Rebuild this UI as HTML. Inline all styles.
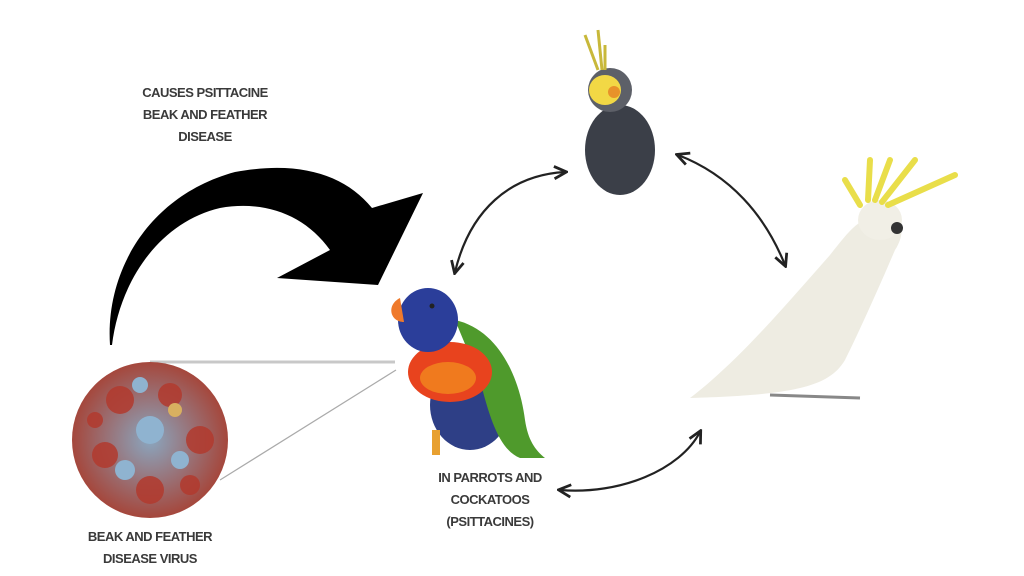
<!DOCTYPE html>
<html><head><style>
html,body{margin:0;padding:0;background:#fff;}
.t{position:absolute;font-family:"Liberation Sans Narrow","Liberation Sans",sans-serif;font-weight:bold;color:#3a3a3a;font-size:13px;text-align:center;line-height:22px;letter-spacing:-0.5px;}
</style></head><body>
<div style="position:relative;width:1024px;height:576px;overflow:hidden;">
<svg width="1024" height="576" style="position:absolute;left:0;top:0">
<defs>
<marker id="ah" viewBox="0 0 10 10" refX="8" refY="5" markerWidth="7" markerHeight="7" orient="auto-start-reverse"><path d="M1,1 L9,5 L1,9" fill="none" stroke="#222" stroke-width="1.8"/></marker>
<radialGradient id="vg" cx="50%" cy="50%" r="50%"><stop offset="0" stop-color="#8aa6bf"/><stop offset="1" stop-color="#a5473c"/></radialGradient>
</defs>
<path d="M110,345 C105,270 150,195 235,172 C300,160 345,175 372,208 L423,193 L378,285 L277,278 L330,250 C305,215 265,200 220,208 C160,222 120,280 112,345 Z" fill="#000"/>
<line x1="150" y1="362" x2="395" y2="362" stroke="#c8c8c8" stroke-width="3"/>
<line x1="220" y1="480" x2="396" y2="370" stroke="#aaa" stroke-width="1.2"/>
<circle cx="150" cy="440" r="78" fill="url(#vg)"/>
<g fill="#b23a2e" opacity=".85">
<circle cx="120" cy="400" r="14"/><circle cx="170" cy="395" r="12"/><circle cx="200" cy="440" r="14"/><circle cx="105" cy="455" r="13"/><circle cx="150" cy="490" r="14"/><circle cx="190" cy="485" r="10"/><circle cx="95" cy="420" r="8"/>
</g>
<g fill="#8fb3d0"><circle cx="150" cy="430" r="14"/><circle cx="125" cy="470" r="10"/><circle cx="180" cy="460" r="9"/><circle cx="140" cy="385" r="8"/></g>
<circle cx="175" cy="410" r="7" fill="#d8b060"/>
<!-- lorikeet -->
<ellipse cx="470" cy="405" rx="40" ry="45" fill="#2e3f86"/>
<path d="M455,320 C500,330 520,380 525,420 C528,440 535,450 545,458 L520,458 C500,450 490,420 480,380 Z" fill="#4f9a2c"/>
<ellipse cx="450" cy="372" rx="42" ry="30" fill="#e8431e"/>
<ellipse cx="448" cy="378" rx="28" ry="16" fill="#f07a1e"/>
<ellipse cx="428" cy="320" rx="30" ry="32" fill="#2b3e9a"/>
<path d="M400,298 C386,305 390,322 404,322 Z" fill="#ef7a2c"/>
<circle cx="432" cy="306" r="2.5" fill="#222"/>
<rect x="432" y="430" width="8" height="25" fill="#e8a030"/>
<!-- cockatiel -->
<ellipse cx="620" cy="150" rx="35" ry="45" fill="#3b3f48"/>
<ellipse cx="610" cy="90" rx="22" ry="22" fill="#5d6068"/>
<ellipse cx="605" cy="90" rx="16" ry="15" fill="#f2d845"/>
<circle cx="614" cy="92" r="6" fill="#e8922a"/>
<path d="M598,70 L585,35 M602,70 L598,30 M605,70 L605,45" stroke="#c8b83a" stroke-width="3" fill="none"/>
<!-- cockatoo -->
<path d="M690,398 C740,360 790,300 830,255 C850,230 860,215 885,215 C905,215 905,235 895,250 C880,285 860,330 845,360 C830,385 800,395 690,398 Z" fill="#eeece2"/>
<ellipse cx="880" cy="220" rx="22" ry="20" fill="#f1efe6"/>
<circle cx="897" cy="228" r="6" fill="#333"/>
<path d="M860,205 L845,180 M868,200 L870,160 M875,200 L890,160 M882,202 L915,160 M888,205 L955,175" stroke="#e9de4a" stroke-width="6" stroke-linecap="round" fill="none"/>
<path d="M770,395 L860,398" stroke="#888" stroke-width="3"/>
<g fill="none" stroke="#222" stroke-width="2.2" marker-start="url(#ah)" marker-end="url(#ah)">
<path d="M455,272 C470,210 510,175 565,172"/>
<path d="M678,155 C730,175 765,215 785,265"/>
<path d="M700,432 C680,470 620,495 560,490"/>
</g>
</svg>
<div class="t" style="left:95px;top:82px;width:220px;">CAUSES PSITTACINE<br>BEAK AND FEATHER<br>DISEASE</div>
<div class="t" style="left:390px;top:467px;width:200px;">IN PARROTS AND<br>COCKATOOS<br>(PSITTACINES)</div>
<div class="t" style="left:50px;top:526px;width:200px;">BEAK AND FEATHER<br>DISEASE VIRUS</div>
</div>
</body></html>
